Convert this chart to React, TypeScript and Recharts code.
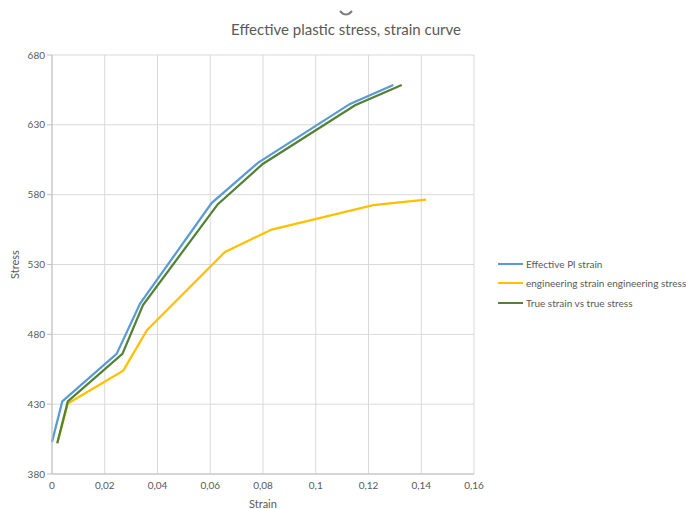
import React from 'react';
import { LineChart, Line, XAxis, YAxis, CartesianGrid } from 'recharts';

// strain values per series
const effStrain = [0, 0.0039, 0.0245, 0.0334, 0.0605, 0.0782, 0.113, 0.1294];
const effStress = [403, 432, 466, 502, 574, 603, 645, 658.5];

const engStrain = [0.002, 0.006, 0.027, 0.036, 0.0656, 0.0833, 0.1218, 0.1418];
const engStress = [402, 430.5, 454, 483, 539, 555, 572.5, 576.5];

const trueStrain = [0.002, 0.006, 0.0267, 0.0345, 0.0628, 0.0799, 0.1149, 0.1326];
const trueStress = [402, 432, 466, 501, 573, 602, 644, 658.5];

const xTicks = [0, 0.02, 0.04, 0.06, 0.08, 0.1, 0.12, 0.14, 0.16];
const yTicks = [380, 430, 480, 530, 580, 630, 680];

const toPoints = (xs: number[], ys: number[]) => xs.map((x, i) => ({ x, y: ys[i] }));

const series = [
  { name: 'Effective Pl strain', color: '#5B9BD5', data: toPoints(effStrain, effStress) },
  { name: 'engineering strain engineering stress', color: '#FFC000', data: toPoints(engStrain, engStress) },
  { name: 'True strain vs true stress', color: '#548235', data: toPoints(trueStrain, trueStress) },
];

const font = 'Lato, "Open Sans", sans-serif';
const grey = '#595959';

const fmtX = (v: number) => (v === 0 ? '0' : String(Number(v.toFixed(2))).replace('.', ','));

export default function App() {
  return (
    <div style={{ position: 'absolute', left: 0, top: 0, width: 686, height: 509, background: '#fff' }}>
      <div
        style={{
          position: 'absolute',
          left: 0,
          top: 20,
          width: 692,
          textAlign: 'center',
          fontFamily: font,
          fontSize: 15,
          color: grey,
        }}
      >
        Effective plastic stress, strain curve
      </div>
      <svg style={{ position: 'absolute', left: 338, top: 8 }} width="16" height="10">
        <path d="M2 3 Q8 10 14 3" stroke="#7f7f7f" strokeWidth="2" fill="none" />
      </svg>
      {/* legend drawn outside the chart so it doesn't shrink the plot */}
      <div
        style={{
          position: 'absolute',
          left: 498,
          top: 254,
          fontFamily: font,
          fontSize: 10,
          color: grey,
          whiteSpace: 'nowrap',
        }}
      >
        {series.map((s) => (
          <div key={s.name} style={{ display: 'flex', alignItems: 'center', height: 19.5 }}>
            <span style={{ display: 'inline-block', width: 25, height: 2, background: s.color, marginRight: 3 }} />
            <span>{s.name}</span>
          </div>
        ))}
      </div>
      <LineChart
        width={686}
        height={509}
        margin={{ top: 55, right: 212, left: 12, bottom: 0 }}
        style={{ fontFamily: font }}
      >
        <CartesianGrid stroke="#D9D9D9" />
        <XAxis
          type="number"
          dataKey="x"
          domain={[0, 0.16]}
          ticks={xTicks}
          tickFormatter={fmtX}
          height={35}
          axisLine={{ stroke: '#BFBFBF' }}
          tickLine={false}
          tick={{ fill: grey, fontSize: 10 }}
          allowDuplicatedCategory={false}
          label={{ value: 'Strain', position: 'insideBottom', offset: 1, fill: grey, fontSize: 11 }}
        />
        <YAxis
          type="number"
          dataKey="y"
          domain={[380, 680]}
          ticks={yTicks}
          width={40}
          axisLine={{ stroke: '#BFBFBF' }}
          tickLine={{ stroke: '#BFBFBF' }}
          tickSize={5}
          tick={{ fill: grey, fontSize: 10 }}
          label={{ value: 'Stress', angle: -90, position: 'insideLeft', offset: 3, fill: grey, fontSize: 11, textAnchor: 'middle' }}
        />
        {series.map((s) => (
          <Line
            key={s.name}
            data={s.data}
            dataKey="y"
            name={s.name}
            stroke={s.color}
            strokeWidth={2.25}
            dot={false}
            activeDot={false}
            isAnimationActive={false}
          />
        ))}
      </LineChart>
    </div>
  );
}
